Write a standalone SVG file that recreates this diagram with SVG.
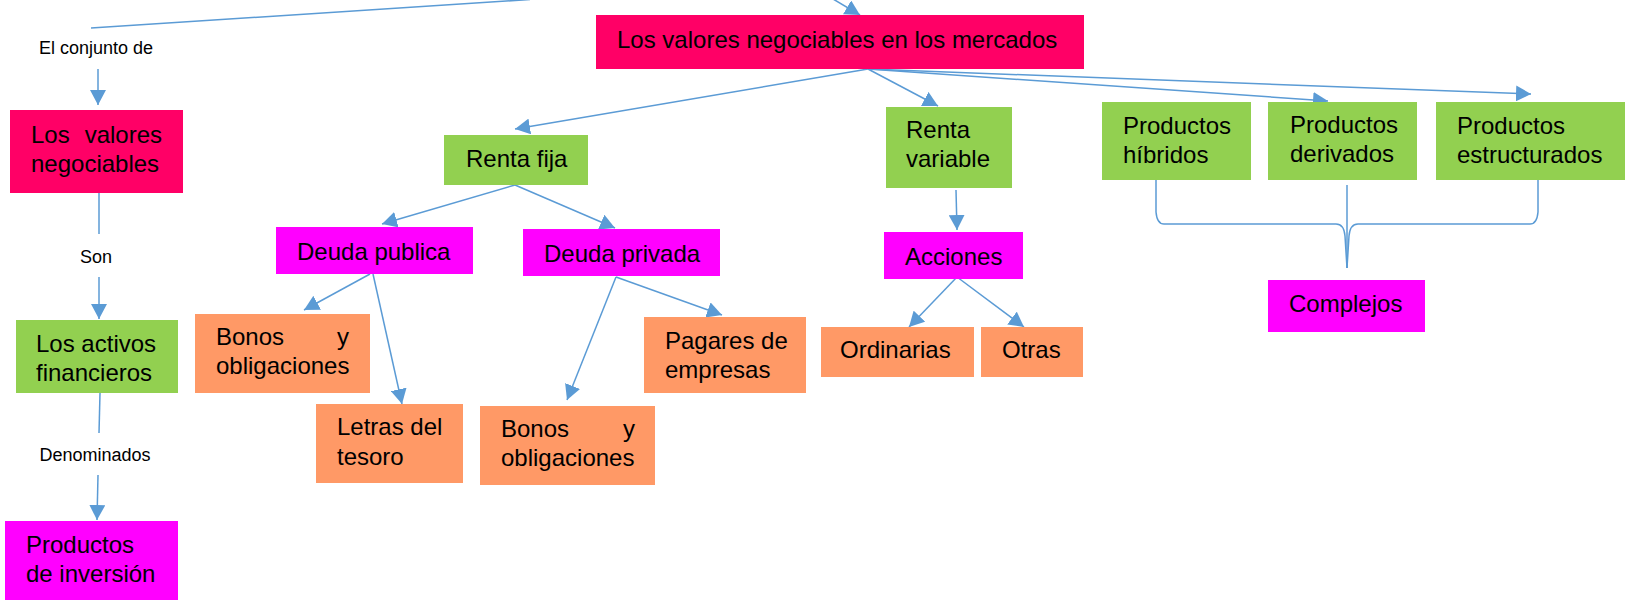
<svg xmlns="http://www.w3.org/2000/svg" width="1638" height="605" viewBox="0 0 1638 605">
<defs>
<style>
.t{font-family:"Liberation Sans",Arial,sans-serif;font-size:24px;fill:#000}
.l{font-family:"Liberation Sans",Arial,sans-serif;font-size:18px;fill:#000;text-anchor:middle}
.red{fill:#FF0066}
.grn{fill:#92D050}
.mag{fill:#FF00FF}
.org{fill:#FF9966}
.c{stroke:#5B9BD5;stroke-width:1.5;fill:none}
</style>
<marker id="ah" markerUnits="userSpaceOnUse" viewBox="0 0 15 16" markerWidth="15" markerHeight="16" refX="15" refY="8" orient="auto">
<path d="M0,0 L15,8 L0,16 z" fill="#5B9BD5"/>
</marker>
</defs>
<rect width="1638" height="605" fill="#fff"/>

<g id="connectors">
<line class="c" x1="91" y1="28" x2="530" y2="-0.5"/>
<line class="c" x1="833" y1="-1" x2="860" y2="15" marker-end="url(#ah)"/>
<line class="c" x1="98" y1="69" x2="98" y2="105" marker-end="url(#ah)"/>
<line class="c" x1="99" y1="193" x2="99" y2="234"/>
<line class="c" x1="99" y1="277" x2="99" y2="319" marker-end="url(#ah)"/>
<line class="c" x1="100" y1="393" x2="99" y2="433"/>
<line class="c" x1="98" y1="475" x2="97" y2="520" marker-end="url(#ah)"/>
<line class="c" x1="868" y1="69" x2="515" y2="129" marker-end="url(#ah)"/>
<line class="c" x1="868" y1="69" x2="938" y2="106" marker-end="url(#ah)"/>
<line class="c" x1="868" y1="69" x2="1328" y2="101" marker-end="url(#ah)"/>
<line class="c" x1="868" y1="69" x2="1531" y2="94" marker-end="url(#ah)"/>
<line class="c" x1="515" y1="185" x2="382" y2="224" marker-end="url(#ah)"/>
<line class="c" x1="515" y1="185" x2="615" y2="228" marker-end="url(#ah)"/>
<line class="c" x1="370" y1="274" x2="304" y2="310" marker-end="url(#ah)"/>
<line class="c" x1="373" y1="274" x2="402" y2="404" marker-end="url(#ah)"/>
<line class="c" x1="616" y1="277" x2="567" y2="400" marker-end="url(#ah)"/>
<line class="c" x1="616" y1="277" x2="722" y2="315" marker-end="url(#ah)"/>
<line class="c" x1="956" y1="190" x2="957" y2="230" marker-end="url(#ah)"/>
<line class="c" x1="957" y1="277" x2="909" y2="327" marker-end="url(#ah)"/>
<line class="c" x1="957" y1="277" x2="1024" y2="327" marker-end="url(#ah)"/>
<path class="c" d="M1156,180 L1156,212 Q1157,224 1164,224 L1336,224 Q1344,224 1345,236 L1347,268"/>
<path class="c" d="M1538,180 L1538,212 Q1537,224 1530,224 L1358,224 Q1350,224 1349,236 L1347,268"/>
<line class="c" x1="1347" y1="185" x2="1347" y2="268"/>
</g>

<g id="lbl-conjunto"><text class="l" x="96" y="54">El conjunto de</text></g>
<g id="lbl-son"><text class="l" x="96" y="263">Son</text></g>
<g id="lbl-denominados"><text class="l" x="95" y="461">Denominados</text></g>

<g id="n-main"><rect class="red" x="596" y="15" width="488" height="54"/><text class="t" x="617" y="48">Los valores negociables en los mercados</text></g>

<g id="n-valores"><rect class="red" x="10" y="110" width="173" height="83"/><text class="t" x="31" y="143">Los</text><text class="t" x="162" y="143" text-anchor="end">valores</text><text class="t" x="31" y="172">negociables</text></g>

<g id="n-activos"><rect class="grn" x="16" y="320" width="162" height="73"/><text class="t" x="36" y="352">Los activos</text><text class="t" x="36" y="381">financieros</text></g>

<g id="n-inversion"><rect class="mag" x="5" y="521" width="173" height="79"/><text class="t" x="26" y="553">Productos</text><text class="t" x="26" y="582">de inversión</text></g>

<g id="n-rentafija"><rect class="grn" x="444" y="135" width="144" height="50"/><text class="t" x="466" y="167">Renta fija</text></g>

<g id="n-deudapub"><rect class="mag" x="276" y="227" width="197" height="47"/><text class="t" x="297" y="260">Deuda publica</text></g>

<g id="n-deudapriv"><rect class="mag" x="523" y="229" width="197" height="47"/><text class="t" x="544" y="262">Deuda privada</text></g>

<g id="n-bonos1"><rect class="org" x="195" y="314" width="175" height="79"/><text class="t" x="216" y="345">Bonos</text><text class="t" x="349" y="345" text-anchor="end">y</text><text class="t" x="216" y="374">obligaciones</text></g>

<g id="n-letras"><rect class="org" x="316" y="404" width="147" height="79"/><text class="t" x="337" y="435">Letras del</text><text class="t" x="337" y="465">tesoro</text></g>

<g id="n-bonos2"><rect class="org" x="480" y="406" width="175" height="79"/><text class="t" x="501" y="437">Bonos</text><text class="t" x="635" y="437" text-anchor="end">y</text><text class="t" x="501" y="466">obligaciones</text></g>

<g id="n-pagares"><rect class="org" x="644" y="317" width="162" height="76"/><text class="t" x="665" y="349">Pagares de</text><text class="t" x="665" y="378">empresas</text></g>

<g id="n-rentavar"><rect class="grn" x="886" y="107" width="126" height="81"/><text class="t" x="906" y="138">Renta</text><text class="t" x="906" y="167">variable</text></g>

<g id="n-acciones"><rect class="mag" x="884" y="232" width="139" height="47"/><text class="t" x="905" y="265">Acciones</text></g>

<g id="n-ordinarias"><rect class="org" x="821" y="327" width="153" height="50"/><text class="t" x="840" y="358">Ordinarias</text></g>

<g id="n-otras"><rect class="org" x="981" y="327" width="102" height="50"/><text class="t" x="1002" y="358">Otras</text></g>

<g id="n-hibridos"><rect class="grn" x="1102" y="102" width="149" height="78"/><text class="t" x="1123" y="134">Productos</text><text class="t" x="1123" y="163">híbridos</text></g>

<g id="n-derivados"><rect class="grn" x="1268" y="102" width="149" height="78"/><text class="t" x="1290" y="133">Productos</text><text class="t" x="1290" y="162">derivados</text></g>

<g id="n-estructurados"><rect class="grn" x="1436" y="102" width="189" height="78"/><text class="t" x="1457" y="134">Productos</text><text class="t" x="1457" y="163">estructurados</text></g>

<g id="n-complejos"><rect class="mag" x="1268" y="280" width="157" height="52"/><text class="t" x="1289" y="312">Complejos</text></g>
</svg>
